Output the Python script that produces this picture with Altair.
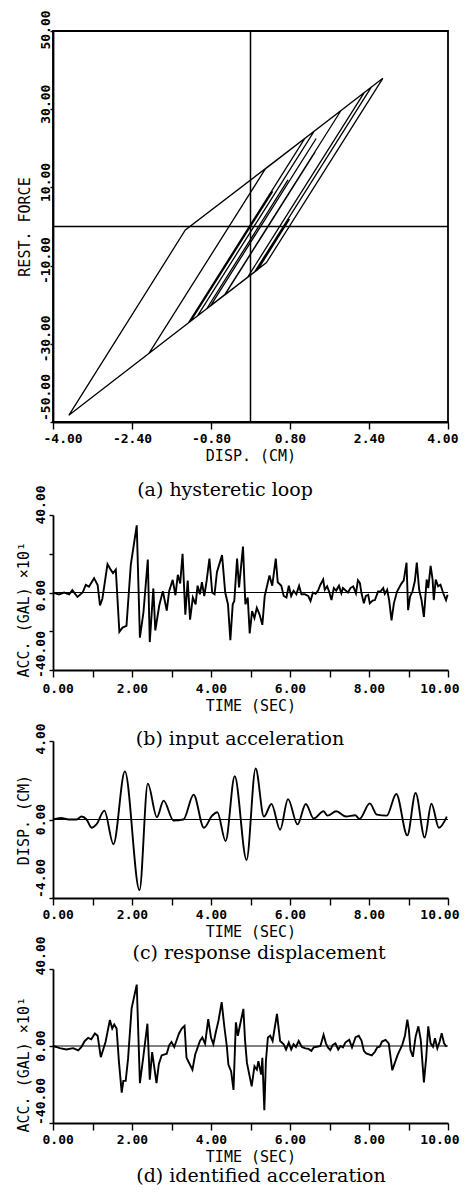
import altair as alt
import pandas as pd

MONO = "DejaVu Sans Mono"
SERIF = "DejaVu Serif"

# ---------------- (a) hysteretic loop : vertices of the loop, in drawing order
LOOP_DISP = [0.0, 0.15, -0.42, 0.45, 0.03, -1.21, -1.26, 1.10, 2.45, 0.09,
             -3.68, -1.32, 1.83, 0.12, 0.96, 0.0, 1.26, -0.42, 0.37, -0.53,
             -1.07, 1.29, 2.30, -0.06, -2.06, 0.30, 2.68, 0.32, 0.15, 0.79,
             0.15, -0.52, 1.04, -0.25, 0.79, 0.03, 0.42, 0.15, 0.42, 0.03,
             0.82, 0.15, 1.31, -0.52, -0.81, 1.33, -0.81, -0.89, 0.76, -0.42,
             0.15]
LOOP_FORCE = [0.0, 3.0, -8.4, 9.0, 0.6, -24.2, -24.7, 22.5, 35.7, -11.5,
              -48.3, -0.9, 29.6, -4.6, 12.2, -7.0, 18.2, -15.4, 0.4, -17.6,
              -22.8, 24.4, 34.2, -13.0, -32.5, 14.7, 37.9, -9.3, -10.9, 1.9,
              -11.0, -17.5, 13.7, -12.1, 8.7, -6.5, 1.3, -4.1, 1.3, -6.5,
              9.3, -4.1, 19.1, -17.4, -20.3, 22.5, -20.3, -21.1, 11.9, -11.7,
              -0.3]
XA_TICKS = [-4.0, -3.2, -2.4, -1.6, -0.8, 0.0, 0.8, 1.6, 2.4, 3.2, 4.0]
XA_LABEL_VALUES = [-4.0, -2.4, -0.8, 0.8, 2.4, 4.0]
XA_LABELS = ["-4.00", "-2.40", "-0.80", "0.80", "2.40", "4.00"]
YA_TICKS = [-50, -40, -30, -20, -10, 0, 10, 20, 30, 40, 50]
YA_MID_VALUES = [-30, -10, 10, 30]
YA_MID_LABELS = ["-30.00", "-10.00", "10.00", "30.00"]
YA_TOP, YA_TOP_LABEL = [50], ["50.00"]
YA_BOTTOM, YA_BOTTOM_LABEL = [-50], ["-50.00"]

# ---------------- (b) input acceleration (x10 gal)
ACC_IN_T = [0.0, 0.15, 0.28, 0.41, 0.49, 0.62, 0.75, 0.83, 0.91, 1.04, 1.13, 1.19, 1.25,
            1.38, 1.46, 1.52, 1.59, 1.68, 1.76, 1.86, 1.97, 2.12, 2.2, 2.29, 2.4, 2.45,
            2.54, 2.59, 2.69, 2.78, 2.88, 2.94, 3.03, 3.1, 3.16, 3.22, 3.28, 3.35, 3.41,
            3.47, 3.54, 3.61, 3.66, 3.72, 3.77, 3.83, 3.89, 3.96, 4.03, 4.09, 4.15, 4.28,
            4.36, 4.43, 4.49, 4.55, 4.59, 4.66, 4.71, 4.76, 4.81, 4.87, 4.93, 4.98, 5.04,
            5.1, 5.16, 5.23, 5.3, 5.36, 5.41, 5.48, 5.55, 5.64, 5.69, 5.78, 5.84, 5.91,
            5.97, 6.03, 6.09, 6.16, 6.23, 6.29, 6.37, 6.46, 6.52, 6.58, 6.65, 6.71, 6.77,
            6.84, 6.88, 6.94, 6.99, 7.05, 7.11, 7.17, 7.24, 7.3, 7.34, 7.41, 7.47, 7.53,
            7.6, 7.67, 7.72, 7.77, 7.81, 7.87, 7.92, 7.98, 8.02, 8.09, 8.15, 8.23, 8.29,
            8.36, 8.4, 8.46, 8.51, 8.57, 8.63, 8.71, 8.82, 8.88, 8.95, 8.99, 9.04, 9.1,
            9.16, 9.21, 9.27, 9.33, 9.39, 9.46, 9.5, 9.56, 9.61, 9.64, 9.69, 9.75, 9.81,
            9.88, 9.95, 9.99]
ACC_IN_V = [0, -1, 0, -1, 1.2, -2.3, 0, 3.9, 3, 7.4, 3.9, -6.7, -3.2,
            14.7, 11.8, 10, 11.8, -20.3, -18.1, -17.2, 14.4, 34.7, -23.3, -10.2, 17, -25.6,
            2.1, -19.6, -6.7, 0.7, -9.3, 0.7, 6.5, -1.4, 9.1, 4.7, 20, -11.4, 6.1,
            -14, -2.6, -6.1, 3.5, -0.9, 5.3, -1.8, 6.1, 17.5, 0, -0.9, 10.5, 19.3,
            0, -6.1, -24.6, -6.1, -4.4, 17.5, 2.6, 13.2, 23.7, -6.1, -2.6, -21.1, -9.6,
            -13.2, -7.9, -11.4, -16.7, -1.8, 2.6, 8.8, 3.5, 17.5, 5.3, 3.5, -1.8, -2.6,
            3.5, -1.8, 0.9, -0.9, 3.5, -0.9, -0.9, -1.8, -4.4, 0, -0.7, 1, 4,
            6.7, 1.4, 3.2, 0.5, -3.9, 2.3, 1, 3.5, -0.4, 2.3, 1, 0, 2.3,
            3.2, -0.4, 6.3, 4.9, -0.4, -5.6, -1.8, -1.2, -5.6, -4.2, -3.9, 0.5, 0.5,
            2.3, -0.7, 1.4, -3.9, -14.4, -5.6, 0.5, 4.6, 6.3, 15.4, -9.1, -2.1, 0.5,
            5.8, 15.4, 1.4, -3.9, -12.6, 6.7, 2.3, 13.7, 6.7, -3.9, 6.7, 3.2, 4,
            -0.4, -3.9, -1.2]

# ---------------- (c) response displacement (cm)
DISP_T = [0.0, 0.2, 0.4, 0.6, 0.72, 0.85, 0.98, 1.1, 1.3, 1.53, 1.82, 2.19, 2.4, 2.63,
          2.8, 3.05, 3.3, 3.56, 3.82, 4.03, 4.16, 4.37, 4.6, 4.9, 5.13, 5.34, 5.53, 5.75,
          5.95, 6.19, 6.4, 6.6, 6.85, 6.95, 7.17, 7.42, 7.65, 7.76, 8.02, 8.2, 8.45,
          8.69, 8.97, 9.18, 9.41, 9.58, 9.77, 9.97]
DISP_V = [0.0, 0.08, 0.0, 0.0, 0.15, 0.0, -0.42, -0.25, 0.45, -1.26, 2.45, -3.6, 1.83, 0.12,
          0.96, -0.05, 0.0, 1.26, -0.42, 0.2, 0.37, -1.1, 2.2, -2.06, 2.6, 0.15, 0.79, -0.52,
          1.04, -0.25, 0.79, 0.05, 0.42, 0.2, 0.42, 0.15, 0.22, 0.03, 0.82, 0.25, 0.2,
          1.3, -0.81, 1.35, -0.92, 0.8, -0.42, 0.15]

# ---------------- (d) identified acceleration (x10 gal)
ACC_ID_T = [0.0, 0.085, 0.17, 0.34, 0.51, 0.64, 0.72, 0.8, 0.89, 0.97, 1.06, 1.13, 1.21,
            1.33, 1.44, 1.5, 1.55, 1.61, 1.67, 1.74, 1.78, 1.84, 1.9, 1.99, 2.12, 2.2,
            2.28, 2.39, 2.45, 2.51, 2.62, 2.68, 2.75, 2.88, 2.94, 3.0, 3.07, 3.13, 3.19,
            3.26, 3.33, 3.38, 3.53, 3.6, 3.72, 3.78, 3.85, 3.93, 4.0, 4.06, 4.12, 4.19,
            4.27, 4.34, 4.4, 4.44, 4.51, 4.57, 4.63, 4.68, 4.74, 4.82, 4.86, 4.91, 5.03,
            5.1, 5.16, 5.2, 5.27, 5.3, 5.35, 5.39, 5.44, 5.5, 5.56, 5.67, 5.75, 5.84,
            5.9, 5.97, 6.03, 6.09, 6.15, 6.22, 6.3, 6.39, 6.47, 6.54, 6.6, 6.68, 6.77,
            6.85, 6.91, 6.96, 7.02, 7.08, 7.15, 7.22, 7.28, 7.34, 7.4, 7.5, 7.57, 7.66,
            7.74, 7.81, 7.87, 7.93, 8.07, 8.15, 8.21, 8.27, 8.33, 8.42, 8.5, 8.59, 8.72,
            8.78, 8.84, 8.91, 8.97, 9.01, 9.05, 9.11, 9.18, 9.25, 9.31, 9.39, 9.45, 9.5,
            9.56, 9.62, 9.67, 9.73, 9.79, 9.84, 9.9, 9.96]
ACC_ID_V = [0, -0.5, -1.1, -1.8, -1.1, -2.3, -0.5, 2.5, 4.2, 3.5, 6.5, 5.3, -5.8,
            2.1, 13.5, 9.1, 11.2, 9.1, -8.4, -24.2, -18.1, -18.1, -6.7, 19.6, 31.9, -19.3,
            -6.7, 11.6, -17.5, -3.2, -19.3, -9.3, -4.9, -4, 0.35, 2.1, -0.5, 3, 6.5,
            9.1, 10.5, -6.1, -12.3, -4.4, 2.6, 4.4, 1.2, 14, 4.4, 0.9, 7, 13.2,
            22.8, 9.6, 0, -9.6, -13.2, -22.8, 12.3, 5.3, 11.4, 19.3, 3.5, -8.8, -21,
            -10.5, -12.3, -7.9, -14.9, -6.1, -33.3, -7.9, 4.4, 5.3, 2.6, 16.7, 2.6, 0.9,
            -1.8, 1.8, -1.8, 0.9, -0.5, 2.6, -0.5, -1.2, -1.5, -2.5, -0.7, -0.4, 0,
            5.8, 1.4, -0.7, -2.1, 0.5, 1.4, -1.8, 0, -0.7, 1.8, 3.2, -0.7, 4.6,
            5.3, 2.8, -2.5, -3.9, -4.9, -3, -0.7, -0.4, 2.3, 3.2, 1.4, -12.6, -4.9,
            -2.1, 0.5, 5.3, 13.7, 8.4, -2.1, -5.6, 4.9, 10.2, 3.2, -18.9, -5.6, 10.2,
            1.4, -0.4, 4, -1.2, 2.3, 6.7, 1.4, -0.4]

T_TICKS = [0, 1, 2, 3, 4, 5, 6, 7, 8, 9, 10]
T_LABEL_VALUES = [0, 2, 4, 6, 8, 10]
T_LABELS = ["0.00", "2.00", "4.00", "6.00", "8.00", "10.00"]
ACC_TICKS = [-40, -20, 0, 20, 40]
ACC_TOP, ACC_TOP_LABEL = [40], ["40.00"]
ACC_MID, ACC_MID_LABEL = [0], ["0.00"]
ACC_BOTTOM, ACC_BOTTOM_LABEL = [-40], ["-40.00"]
DISP_TICKS = [-4, -2, 0, 2, 4]
DISP_TOP, DISP_TOP_LABEL = [4], ["4.00"]
DISP_MID, DISP_MID_LABEL = [0], ["0.00"]
DISP_BOTTOM, DISP_BOTTOM_LABEL = [-4], ["-4.00"]

CAPTIONS = ["(a) hysteretic loop", "(b) input acceleration",
            "(c) response displacement", "(d) identified acceleration"]


def lab_expr(vals, texts):
    e = "''"
    for v, t in zip(vals, texts):
        e = f"abs(datum.value - ({v})) < 1e-6 ? '{t}' : ({e})"
    return e


def x_axis(ticks, lvals, ltexts, title, flush_off, lpad):
    return alt.Axis(values=ticks, labelExpr=lab_expr(lvals, ltexts), title=title,
                    labelFont=MONO, labelFontSize=13, labelFontWeight="bold", labelColor="black",
                    titleFont=MONO, titleFontSize=15, titleFontWeight="normal", titleColor="black",
                    tickSize=7, tickColor="black", tickWidth=1.4, domainColor="black", domainWidth=1.8,
                    labelPadding=lpad, titlePadding=3, grid=False, labelOverlap=False,
                    labelFlush=True, labelFlushOffset=flush_off)


def y_axis(ticks, title, tx, ty, talign, tsize):
    return alt.Axis(values=ticks, labels=False, title=title,
                    titleFont=MONO, titleFontSize=15, titleFontWeight="normal", titleColor="black",
                    titleAngle=270, titleX=tx, titleY=ty, titleAlign=talign, titleBaseline="middle",
                    tickSize=tsize, tickColor="black", tickWidth=1.4, domainColor="black",
                    domainWidth=1.8, grid=False)


def ylabels(field, vals, texts, align, shift, xoff):
    df = pd.DataFrame({field: vals, "lab": texts})
    return alt.Chart(df).mark_text(angle=270, align=align, baseline="alphabetic", font=MONO,
                                   fontSize=13, fontWeight="bold", color="black", dx=shift).encode(
        y=alt.Y(f"{field}:Q"), x=alt.value(xoff), text="lab:N")


def caption(text, xpos, ypos):
    return alt.Chart(pd.DataFrame({"cap": [text]})).mark_text(
        font=SERIF, fontSize=19, color="black", align="center", baseline="middle").encode(
        x=alt.value(xpos), y=alt.value(ypos), text="cap:N")


# ---------------- panel (a)
W = 395
HA = 391
loop_df = pd.DataFrame({"disp": LOOP_DISP, "force": LOOP_FORCE, "idx": list(range(len(LOOP_DISP)))})
xa = alt.X("disp:Q", scale=alt.Scale(domain=[-4, 4], nice=False, zero=False),
           axis=x_axis(XA_TICKS, XA_LABEL_VALUES, XA_LABELS, "DISP. (CM)", 10, 3))
ya = alt.Y("force:Q", scale=alt.Scale(domain=[-50, 50], nice=False, zero=False),
           axis=y_axis(YA_TICKS, "REST. FORCE", -29, HA / 2, "center", 3))
loop = alt.Chart(loop_df).mark_line(color="black", strokeWidth=1.3).encode(x=xa, y=ya, order="idx:Q")
vline = alt.Chart(pd.DataFrame({"disp": [0.0]})).mark_rule(color="black", strokeWidth=1.5).encode(x="disp:Q")
hline = alt.Chart(pd.DataFrame({"force": [0.0]})).mark_rule(color="black", strokeWidth=1.5).encode(y="force:Q")
chart_a = alt.layer(
    loop, vline, hline,
    ylabels("force", YA_MID_VALUES, YA_MID_LABELS, "center", 5, -3),
    ylabels("force", YA_TOP, YA_TOP_LABEL, "center", 1, -3),
    ylabels("force", YA_BOTTOM, YA_BOTTOM_LABEL, "left", 1, -3),
    caption(CAPTIONS[0], 172, HA + 68),
).properties(width=W, height=HA, view=alt.ViewBackground(stroke="black", strokeWidth=1.8))


def ts_panel(t, v, ydom, yticks, top, toplab, mid, midlab, bot, botlab, shifts, ytitle, height,
             rtop, ty, talign, cap, cap_x, cap_y, interp, lpad):
    df = pd.DataFrame({"t": t, "v": v})
    xs = alt.X("t:Q", scale=alt.Scale(domain=[0, 10], nice=False, zero=False),
               axis=x_axis(T_TICKS, T_LABEL_VALUES, T_LABELS, "TIME (SEC)", 11, lpad))
    ys = alt.Y("v:Q", scale=alt.Scale(domain=ydom, nice=False, zero=False, range=[height, rtop]),
               axis=y_axis(yticks, ytitle, -30, ty, talign, 4))
    line = alt.Chart(df).mark_line(color="black", strokeWidth=1.9, interpolate=interp).encode(x=xs, y=ys)
    zero = alt.Chart(pd.DataFrame({"v": [0.0]})).mark_rule(color="black", strokeWidth=1).encode(y="v:Q")
    return alt.layer(
        line, zero,
        ylabels("v", top, toplab, "center", shifts[0], -8),
        ylabels("v", mid, midlab, "center", shifts[1], -8),
        ylabels("v", bot, botlab, "left", shifts[2], -8),
        caption(cap, cap_x, cap_y),
    ).properties(width=W, height=height)


HB = 177
chart_b = ts_panel(ACC_IN_T, ACC_IN_V, [-40, 40], ACC_TICKS, ACC_TOP, ACC_TOP_LABEL,
                   ACC_MID, ACC_MID_LABEL, ACC_BOTTOM, ACC_BOTTOM_LABEL, (10, -3, -8),
                   "ACC. (GAL)  \u00d710\u00b9", HB, 22, HB + 7, "left",
                   CAPTIONS[1], 187, HB + 69, "linear", 5)
HC = 157
chart_c = ts_panel(DISP_T, DISP_V, [-4, 4], DISP_TICKS, DISP_TOP, DISP_TOP_LABEL,
                   DISP_MID, DISP_MID_LABEL, DISP_BOTTOM, DISP_BOTTOM_LABEL, (2, 0, 0),
                   "DISP. (CM)", HC, 0, HC / 2, "center",
                   CAPTIONS[2], 206, HC + 55, "monotone", 3)
HD = 154
chart_d = ts_panel(ACC_ID_T, ACC_ID_V, [-40, 40], ACC_TICKS, ACC_TOP, ACC_TOP_LABEL,
                   ACC_MID, ACC_MID_LABEL, ACC_BOTTOM, ACC_BOTTOM_LABEL, (13, 0, -2),
                   "ACC. (GAL)  \u00d710\u00b9", HD, 0, HD + 9, "left",
                   CAPTIONS[3], 208, HD + 53, "linear", 3)

chart = alt.vconcat(chart_a, chart_b, chart_c, chart_d, spacing=71, bounds="flush").properties(
    padding={"left": 7, "top": 1, "right": 0, "bottom": 0}
).configure_view(stroke="transparent")

chart.save("out.html", embed_options={"renderer": "svg", "actions": False})
